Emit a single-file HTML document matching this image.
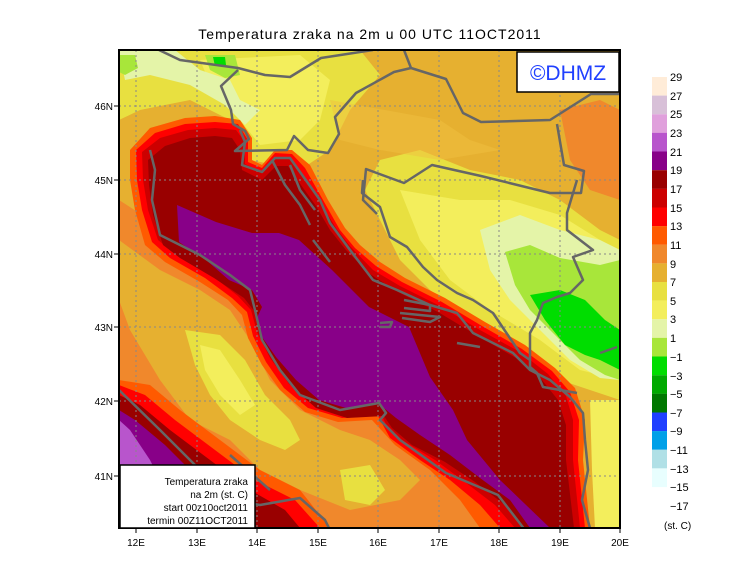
<!DOCTYPE html>
<html><head><meta charset="utf-8"><style>
body{margin:0;background:#fff;}
svg text{font-family:"Liberation Sans",sans-serif;}
</style></head><body>
<svg width="740" height="582" viewBox="0 0 740 582" xmlns="http://www.w3.org/2000/svg">
<rect width="740" height="582" fill="#fff"/>
<text x="370" y="39" font-size="14" text-anchor="middle" letter-spacing="1">Temperatura zraka na 2m u 00 UTC 11OCT2011</text>
<defs><clipPath id="c"><rect x="119" y="50" width="501" height="478"/></clipPath></defs>
<g clip-path="url(#c)">
<rect x="119" y="50" width="501" height="478" fill="#e6b030"/>
<!-- north yellows -->
<polygon points="119,50 360,50 380,75 350,110 330,150 300,170 250,160 230,120 190,100 140,110 119,120" fill="#e8e040"/>
<polygon points="200,60 300,55 330,80 320,120 300,140 260,145 240,120 215,95" fill="#f3ee5c"/>
<polygon points="119,50 175,50 200,70 230,80 240,100 260,110 245,125 225,105 190,85 150,75 125,80" fill="#e4f4a8"/>
<polygon points="119,55 135,55 138,68 125,75 119,72" fill="#a8e63a"/>
<polygon points="205,55 235,55 240,75 225,78 210,70" fill="#a8e63a"/>
<polygon points="213,57 225,57 226,65 215,66" fill="#00dd00"/>
<polygon points="380,160 420,150 470,170 520,180 560,200 600,230 620,240 620,400 590,390 560,380 520,350 470,320 430,290 400,260 380,220 365,190" fill="#e8e040"/>
<polygon points="400,190 460,200 510,200 560,215 600,240 620,250 620,380 580,370 540,340 490,310 450,280 420,240" fill="#f3ee5c"/>
<polygon points="480,230 520,215 560,230 600,240 620,250 620,380 600,378 570,360 540,330 510,300 490,270" fill="#e4f4a8"/>
<polygon points="505,252 530,245 560,258 600,265 620,260 620,380 605,375 580,360 555,335 530,310 515,285" fill="#a8e63a"/>
<polygon points="530,295 560,290 585,300 605,320 620,330 620,370 600,360 585,355 565,345 545,320" fill="#00dd00"/>
<polygon points="560,110 600,100 620,110 620,200 590,190 570,160" fill="#f0882c"/>
<polygon points="330,100 440,120 470,140 500,150 440,160 380,150 340,140" fill="#f0c040" opacity="0.5"/>
<!-- right side yellow strip near bottom -->
<polygon points="590,400 620,400 620,528 595,528 592,470" fill="#f3ee5c"/>
<!-- Italy interior -->
<polygon points="119,200 150,220 170,250 200,270 240,295 255,320 262,345 285,375 310,400 350,415 380,415 395,440 440,470 470,495 500,528 240,528 200,480 160,450 119,420" fill="#f0882c"/>
<polygon points="119,240 160,270 200,290 230,310 250,340 270,380 300,410 340,430 370,440 400,460 420,480 400,500 350,510 300,490 260,470 230,440 190,420 160,380 130,330 119,300" fill="#e6b030"/>
<polygon points="185,330 220,335 245,360 265,395 290,420 300,440 285,450 260,440 230,420 210,395 195,365" fill="#e8e040"/>
<polygon points="200,345 220,350 240,380 255,405 240,415 220,395 205,370" fill="#f3ee5c"/>
<polygon points="340,470 370,465 385,490 370,505 345,500" fill="#e8e040"/>
<!-- Tyrrhenian side -->
<polygon points="119,380 150,385 180,410 220,440 260,470 300,490 330,528 119,528" fill="#ff5a00"/>
<polygon points="119,385 145,395 175,420 215,450 255,480 295,500 320,528 119,528" fill="#ff0000"/>
<polygon points="119,395 140,405 170,430 210,460 250,490 285,510 300,528 119,528" fill="#990000"/>
<polygon points="119,410 135,420 165,445 200,480 230,528 119,528" fill="#880088"/>
<polygon points="119,420 130,430 150,460 170,500 185,528 119,528" fill="#b855cc"/>
<!-- Adriatic bands -->
<polygon points="130,150 150,128 185,118 215,116 240,120 252,138 252,160 262,165 275,150 292,150 310,165 328,200 345,228 360,245 380,262 405,278 445,298 485,322 525,345 555,368 575,388 585,420 583,460 590,528 480,528 460,500 430,470 395,445 372,420 338,422 305,412 280,390 262,365 248,338 242,315 228,300 200,282 165,262 145,245 135,210 130,180" fill="#ff5a00"/>
<polygon points="136,150 155,133 185,124 215,122 238,124 248,140 248,162 262,168 275,153 292,154 305,168 323,200 340,230 355,248 376,266 402,282 442,302 482,326 522,349 552,371 570,392 579,420 578,460 585,528 500,528 480,505 450,480 420,460 390,438 378,416 342,418 308,408 284,388 266,362 253,336 247,312 232,298 205,278 170,258 152,242 142,210 137,180" fill="#ff0000"/>
<polygon points="142,152 160,138 188,130 215,128 236,130 245,142 245,164 262,172 275,158 290,158 300,172 320,202 336,228 350,246 373,270 400,286 440,306 480,330 520,352 548,374 566,396 573,420 573,460 580,528 515,528 495,505 465,482 435,460 402,440 386,424 380,412 345,414 313,404 289,384 270,358 257,332 251,310 238,296 210,274 175,254 158,240 148,210 143,180" fill="#cc0000"/>
<polygon points="148,160 165,146 190,138 215,136 232,138 240,150 242,170 262,180 276,166 288,166 296,178 316,206 330,230 346,250 370,274 398,292 438,312 478,336 516,358 542,380 558,400 566,425 566,460 574,528 525,528 505,505 475,482 445,462 412,445 392,428 384,416 347,418 316,408 293,388 274,362 261,336 255,312 244,298 214,278 180,258 163,245 153,215 149,185" fill="#990000"/>
<polygon points="177,205 216,222 252,233 279,233 299,240 332,270 369,307 409,327 430,377 453,410 467,440 500,480 550,528 530,528 510,500 480,478 450,455 420,435 396,418 379,404 346,408 319,400 296,380 276,357 262,337 256,320 262,307 252,290 229,280 206,260 179,242" fill="#880088"/>
</g>
<!-- grid -->
<g stroke="#888" stroke-width="1" stroke-dasharray="2,3" fill="none">
<line x1="136" y1="50" x2="136" y2="528"/><line x1="197" y1="50" x2="197" y2="528"/><line x1="257" y1="50" x2="257" y2="528"/><line x1="318" y1="50" x2="318" y2="528"/><line x1="378" y1="50" x2="378" y2="528"/><line x1="439" y1="50" x2="439" y2="528"/><line x1="499" y1="50" x2="499" y2="528"/><line x1="560" y1="50" x2="560" y2="528"/>
<line x1="119" y1="106" x2="620" y2="106"/><line x1="119" y1="180" x2="620" y2="180"/><line x1="119" y1="254" x2="620" y2="254"/><line x1="119" y1="327" x2="620" y2="327"/><line x1="119" y1="401" x2="620" y2="401"/><line x1="119" y1="476" x2="620" y2="476"/>
</g>
<!-- borders / coasts -->
<g clip-path="url(#c)" stroke="#666" stroke-width="2.5" fill="none" stroke-linejoin="round">
<polyline points="159,50 180,60 238,68 265,75 290,77 321,58 373,50"/>
<polyline points="404,50 411,68 446,79 463,113 481,122 550,120 591,94 621,94"/>
<polyline points="238,70 221,86 231,110 233,124 245,131 249,139 235,151 287,150 294,136 308,150 328,153 339,134 335,117 356,93 394,72 411,68"/>
<polyline points="557,124 564,165 584,171 581,193 550,193 481,176 432,165 404,183 366,169 363,200 377,214"/>
<polyline points="363,180 362,193 380,207 390,237 407,247 423,267 437,280 457,293 473,300 493,313 520,353 530,360 530,367 537,373 543,387 577,393"/>
<polyline points="577,180 567,213 567,230 593,250 573,257 583,280 570,293 557,297 543,303 537,320 530,333 530,360"/>
<polyline points="600,353 617,347"/>
<!-- Italian east coast -->
<polyline points="150,150 155,170 152,200 160,235 200,255 230,275 250,290 255,310 262,340 280,370 300,395 340,410 379,403 386,413 380,420 400,440 446,473 498,495 525,530"/>
<!-- Croatian coast -->
<polyline points="240,130 245,142 242,165 262,172 275,158 290,158 300,172 320,200 330,223 350,250 373,280 397,290 430,305 457,313 473,333 513,353 530,370 550,380 570,397 583,413 585,440 588,470 582,500 590,528"/>
<polyline points="272,160 285,185 300,205 310,225"/>
<polyline points="290,165 300,190 315,210"/>
<polyline points="313,240 330,262"/>
<polyline points="404,300 430,305 430,311 404,308 z"/>
<polyline points="400,313 440,317 430,322 402,318"/>
<polyline points="380,323 392,322 390,327 380,327 z"/>
<polyline points="457,343 480,347"/>
<!-- Tyrrhenian & south Italy coast -->
<polyline points="119,390 160,430 200,470 230,500 260,505 300,498 325,520 330,530"/>
<polyline points="230,455 270,490"/>
</g>
<rect x="119" y="50" width="501" height="478" fill="none" stroke="#000" stroke-width="2"/>
<!-- DHMZ box -->
<rect x="517" y="52" width="102" height="40" fill="#fff" stroke="#000" stroke-width="1.5"/>
<text x="568" y="80" font-size="21" fill="#2040ff" text-anchor="middle">©DHMZ</text>
<!-- info box -->
<rect x="120" y="465" width="135" height="63" fill="#fff" stroke="#000" stroke-width="1.5"/>
<g font-size="10" text-anchor="end">
<text x="248" y="485">Temperatura zraka</text>
<text x="248" y="498">na 2m (st. C)</text>
<text x="248" y="511">start 00z10oct2011</text>
<text x="248" y="524">termin 00Z11OCT2011</text>
</g>
<!-- ticks & labels -->
<g stroke="#000" stroke-width="1">
<line x1="114" y1="106" x2="119" y2="106"/><line x1="114" y1="180" x2="119" y2="180"/><line x1="114" y1="254" x2="119" y2="254"/><line x1="114" y1="327" x2="119" y2="327"/><line x1="114" y1="401" x2="119" y2="401"/><line x1="114" y1="476" x2="119" y2="476"/>
<line x1="136" y1="528" x2="136" y2="533"/><line x1="197" y1="528" x2="197" y2="533"/><line x1="257" y1="528" x2="257" y2="533"/><line x1="318" y1="528" x2="318" y2="533"/><line x1="378" y1="528" x2="378" y2="533"/><line x1="439" y1="528" x2="439" y2="533"/><line x1="499" y1="528" x2="499" y2="533"/><line x1="560" y1="528" x2="560" y2="533"/><line x1="620" y1="528" x2="620" y2="533"/>
</g>
<g font-size="10" text-anchor="end">
<text x="113" y="110">46N</text><text x="113" y="184">45N</text><text x="113" y="258">44N</text><text x="113" y="331">43N</text><text x="113" y="405">42N</text><text x="113" y="480">41N</text>
</g>
<g font-size="10" text-anchor="middle">
<text x="136" y="546">12E</text><text x="197" y="546">13E</text><text x="257" y="546">14E</text><text x="318" y="546">15E</text><text x="378" y="546">16E</text><text x="439" y="546">17E</text><text x="499" y="546">18E</text><text x="560" y="546">19E</text><text x="620" y="546">20E</text>
</g>
<!-- colorbar -->
<g>
<rect x="652" y="77.0" width="15" height="18.7" fill="#ffecd8"/>
<rect x="652" y="95.6" width="15" height="18.7" fill="#d8c0d8"/>
<rect x="652" y="114.3" width="15" height="18.7" fill="#e0a0dc"/>
<rect x="652" y="132.9" width="15" height="18.7" fill="#b855cc"/>
<rect x="652" y="151.5" width="15" height="18.7" fill="#880088"/>
<rect x="652" y="170.2" width="15" height="18.7" fill="#990000"/>
<rect x="652" y="188.8" width="15" height="18.7" fill="#cc0000"/>
<rect x="652" y="207.5" width="15" height="18.7" fill="#ff0000"/>
<rect x="652" y="226.1" width="15" height="18.7" fill="#ff5a00"/>
<rect x="652" y="244.7" width="15" height="18.7" fill="#f0882c"/>
<rect x="652" y="263.4" width="15" height="18.7" fill="#e6b030"/>
<rect x="652" y="282.0" width="15" height="18.7" fill="#e8e040"/>
<rect x="652" y="300.6" width="15" height="18.7" fill="#f3ee5c"/>
<rect x="652" y="319.3" width="15" height="18.7" fill="#e4f4a8"/>
<rect x="652" y="337.9" width="15" height="18.7" fill="#a8e63a"/>
<rect x="652" y="356.5" width="15" height="18.7" fill="#00dd00"/>
<rect x="652" y="375.2" width="15" height="18.7" fill="#00aa00"/>
<rect x="652" y="393.8" width="15" height="18.7" fill="#007800"/>
<rect x="652" y="412.5" width="15" height="18.7" fill="#2040ff"/>
<rect x="652" y="431.1" width="15" height="18.7" fill="#00a0e8"/>
<rect x="652" y="449.7" width="15" height="18.7" fill="#b0e0e6"/>
<rect x="652" y="468.4" width="15" height="18.7" fill="#e8fefe"/>
</g>
<g font-size="11">
<text x="670" y="81">29</text><text x="670" y="100">27</text><text x="670" y="118">25</text><text x="670" y="137">23</text><text x="670" y="156">21</text><text x="670" y="174">19</text><text x="670" y="193">17</text><text x="670" y="212">15</text><text x="670" y="230">13</text><text x="670" y="249">11</text><text x="670" y="268">9</text><text x="670" y="286">7</text><text x="670" y="305">5</text><text x="670" y="323">3</text><text x="670" y="342">1</text><text x="670" y="361">−1</text><text x="670" y="380">−3</text><text x="670" y="398">−5</text><text x="670" y="417">−7</text><text x="670" y="435">−9</text><text x="670" y="454">−11</text><text x="670" y="473">−13</text><text x="670" y="491">−15</text><text x="670" y="510">−17</text>
<text x="664" y="529" font-size="10">(st. C)</text>
</g>
</svg>
</body></html>
